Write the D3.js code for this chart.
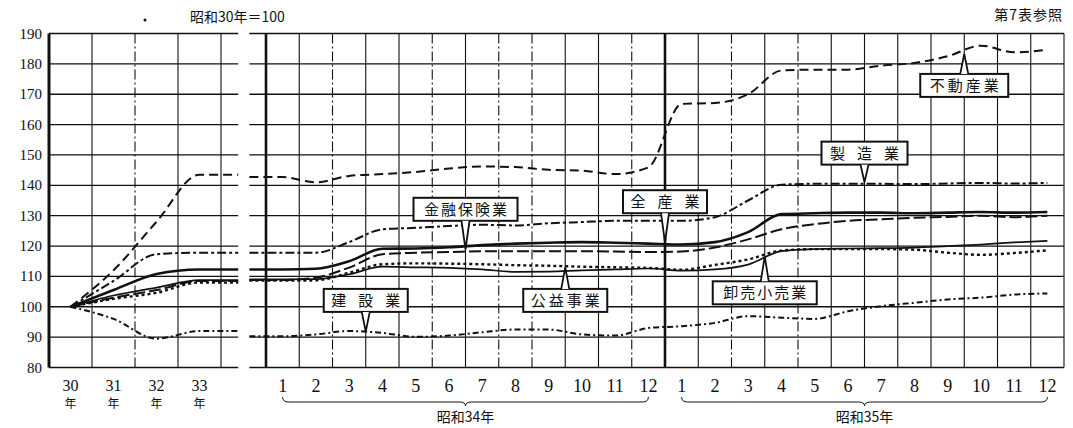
<!DOCTYPE html>
<html>
<head>
<meta charset="utf-8">
<script src="https://cdn.jsdelivr.net/npm/d3@7"></script>
<style>
  body { margin: 0; background: #fff; }
  svg { display: block; }
  .num { font-family: "Liberation Serif", "DejaVu Serif", serif; fill: #111; }
  .jp { font-family: "Noto Sans CJK JP", sans-serif; fill: #111; }
</style>
</head>
<body>
<div id="chart"></div>
<script>
// 昭和30年 = 100
const yearLabels = ['30', '31', '32', '33'];
const monthLabels = ['1','2','3','4','5','6','7','8','9','10','11','12'];
const periodLabels = ['昭和34年', '昭和35年'];
const yTickValues = [80, 90, 100, 110, 120, 130, 140, 150, 160, 170, 180, 190];

const industries = ['全産業', '製造業', '不動産業', '金融保険業', '公益事業', '卸売小売業', '建設業'];

// annual 30-33
const annual = {
  '全産業':     [100, 105.5, 110.8, 112.3],
  '製造業':     [100, 108.5, 117.3, 117.8],
  '不動産業':   [100, 112, 128, 143.5],
  '金融保険業': [100, 103, 105.5, 108.5],
  '公益事業':   [100, 102.6, 104.6, 108],
  '卸売小売業': [100, 103.7, 106.3, 108.8],
  '建設業':     [100, 96, 89.5, 92]
};

// monthly, 34 Jan - 35 Dec
const monthly = {
  '全産業':     [112.3, 112.5, 115, 119.1, 119.2, 119.6, 120.3, 120.8, 121.1, 121.3, 121.1, 120.8,
                 120.5, 121.3, 124.6, 130.5, 130.8, 131, 131, 130.8, 131, 131.2, 131, 131.2],
  '製造業':     [117.8, 117.8, 121.3, 125.5, 126, 126.6, 127, 126.8, 127.5, 127.9, 128.3, 128.3,
                 128.3, 129.5, 135, 140.2, 140.5, 140.5, 140.5, 140.4, 140.6, 140.8, 140.6, 140.8],
  '不動産業':   [142.7, 141, 143.1, 143.7, 144.4, 145.5, 146.2, 146, 145.1, 144.8, 143.7, 145.9,
                 166.8, 167.1, 170, 177.8, 178.1, 178.1, 179.4, 180.3, 182.5, 186, 183.8, 184.7],
  '金融保険業': [108.8, 109.6, 112.9, 117.3, 117.8, 118, 118.3, 118.3, 118.3, 118.3, 118.2, 118,
                 118.2, 119.5, 122.2, 125.5, 127.2, 128.3, 128.8, 129.3, 129.6, 130, 129.5, 130],
  '公益事業':   [108.6, 108.7, 111.2, 114, 114.3, 114.2, 114, 113.7, 113.5, 113.2, 113, 112.8,
                 112.2, 113.8, 115.6, 118.5, 119, 119, 119, 118.8, 117.8, 117.1, 117.7, 118.6],
  '卸売小売業': [109, 109.1, 110.7, 113.2, 113, 112.8, 112.3, 111.5, 111.6, 112, 112.3, 112.6,
                 111.9, 112.3, 113.9, 118.3, 119, 119.2, 119.3, 119.5, 120, 120.5, 121.2, 121.7],
  '建設業':     [90.3, 90.9, 92, 91.4, 90.1, 90.5, 91.6, 92.5, 92.5, 90.9, 90.5, 93,
                 93.6, 94.7, 96.9, 96.4, 96, 98.5, 100.2, 101.3, 102.4, 103, 104, 104.4]
};

const lineStyle = {
  '全産業':     {w: 2.6, dash: null},
  '製造業':     {w: 2, dash: '9,3,3,3'},
  '不動産業':   {w: 2, dash: '9,5'},
  '金融保険業': {w: 2, dash: '12,4'},
  '公益事業':   {w: 2.4, dash: '3,3'},
  '卸売小売業': {w: 1.7, dash: null},
  '建設業':     {w: 2, dash: '6,3,2,3'}
};

// callouts: tip at (month position, value), box centre at (month position, value)
const callouts = [
  {text: '金融保険業', p: 6,  v: 118.9, bv: 132.1, w: 104, ls: 2},
  {text: '全産業',     p: 12, v: 121.2, bv: 134.6, w: 84,  ls: 12},
  {text: '建設業',     p: 3,  v: 91.8,  bv: 102.1, w: 84,  ls: 12},
  {text: '公益事業',   p: 9,  v: 113,   bv: 102.1, w: 84,  ls: 3},
  {text: '卸売小売業', p: 15, v: 116.6, bv: 104.6, w: 104, ls: 2},
  {text: '製造業',     p: 18, v: 141,   bv: 150.6, w: 86,  ls: 12},
  {text: '不動産業',   p: 21, v: 183.3, bv: 172.9, w: 88,  ls: 3}
];

const dashedGridR = [2, 5, 7, 8, 11, 14, 16];

const width = 1073, height = 428;
const svg = d3.select('#chart').append('svg')
  .attr('width', width).attr('height', height);

const y = d3.scaleLinear().domain([80, 190]).range([367.5, 33.5]);
const xL = d3.scaleLinear().domain([0, 4]).range([49, 221]);
const xR = d3.scaleLinear().domain([0, 24]).range([266, 1064]);
const leftEnd = xL(4.4), rightStart = xR(-0.5);

const grid = svg.append('g');

// horizontal grid
grid.selectAll('.hl').data(yTickValues).join('line')
  .attr('x1', xL(0)).attr('x2', leftEnd)
  .attr('y1', d => y(d)).attr('y2', d => y(d))
  .attr('stroke', '#111').attr('stroke-width', 1.3);
grid.selectAll('.hr').data(yTickValues).join('line')
  .attr('class', 'hr')
  .attr('x1', rightStart).attr('x2', xR(24))
  .attr('y1', d => y(d)).attr('y2', d => y(d))
  .attr('stroke', '#111').attr('stroke-width', 1.3);

// vertical grid, left panel
grid.selectAll('.vl').data(d3.range(1, 5)).join('line')
  .attr('class', 'vl')
  .attr('x1', d => xL(d)).attr('x2', d => xL(d))
  .attr('y1', y(190)).attr('y2', y(80))
  .attr('stroke', '#111').attr('stroke-width', 1.1)
  .attr('stroke-dasharray', d => d === 2 ? '10,3,2,3' : null);
grid.append('line')
  .attr('x1', xL(0)).attr('x2', xL(0))
  .attr('y1', y(190)).attr('y2', y(80))
  .attr('stroke', '#111').attr('stroke-width', 3);

// vertical grid, right panel
grid.selectAll('.vr').data(d3.range(0, 25)).join('line')
  .attr('class', 'vr')
  .attr('x1', d => xR(d)).attr('x2', d => xR(d))
  .attr('y1', y(190)).attr('y2', y(80))
  .attr('stroke', '#111')
  .attr('stroke-width', d => (d === 0 || d === 12) ? 2.6 : 1.1)
  .attr('stroke-dasharray', d => dashedGridR.includes(d) ? '10,3,2,3' : null);

// y labels
svg.selectAll('.ytick').data(yTickValues).join('text')
  .attr('class', 'num')
  .attr('x', 42).attr('y', d => y(d) + 5)
  .attr('text-anchor', 'end')
  .attr('font-size', 15)
  .text(d => d);

// lines
const line = d3.line().curve(d3.curveMonotoneX);
const lines = svg.append('g').attr('fill', 'none').attr('stroke', '#111');
industries.forEach(name => {
  const a = annual[name];
  const ptsL = a.map((v, i) => [xL(i + 0.5), y(v)]);
  ptsL.push([leftEnd, y(a[a.length - 1])]);
  const m = monthly[name];
  const ptsR = [[rightStart, y(m[0])]].concat(m.map((v, i) => [xR(i + 0.5), y(v)]));
  const st = lineStyle[name];
  [ptsL, ptsR].forEach(pts => {
    lines.append('path')
      .attr('d', line(pts))
      .attr('stroke-width', st.w)
      .attr('stroke-dasharray', st.dash)
      .attr('stroke-linejoin', 'round');
  });
});

// callouts
const co = svg.append('g');
callouts.forEach(c => {
  const cx = xR(c.p);
  const by = y(c.bv), bh = 23;
  const top = by - bh / 2, bot = by + bh / 2;
  const ty = y(c.v);
  co.append('rect')
    .attr('x', cx - c.w / 2).attr('y', top)
    .attr('width', c.w).attr('height', bh)
    .attr('fill', '#fff').attr('stroke', '#111').attr('stroke-width', 2);
  const edge = ty > by ? bot : top;
  co.append('path')
    .attr('d', `M${cx - 4},${edge} L${cx},${ty} L${cx + 4},${edge}`)
    .attr('fill', '#fff').attr('stroke', '#111').attr('stroke-width', 1.8);
  co.append('text')
    .attr('class', 'jp')
    .attr('x', cx + c.ls / 2).attr('y', by + 5.5)
    .attr('text-anchor', 'middle')
    .attr('font-size', 15)
    .attr('letter-spacing', c.ls)
    .text(c.text);
});

// x labels, left panel
const xl = svg.append('g');
yearLabels.forEach((d, i) => {
  xl.append('text').attr('class', 'num')
    .attr('x', xL(i + 0.5)).attr('y', 391)
    .attr('text-anchor', 'middle').attr('font-size', 16)
    .text(d);
  xl.append('text').attr('class', 'jp')
    .attr('x', xL(i + 0.5)).attr('y', 408)
    .attr('text-anchor', 'middle').attr('font-size', 12)
    .text('年');
});

// x labels, right panel
periodLabels.forEach((lab, k) => {
  monthLabels.forEach((d, i) => {
    svg.append('text').attr('class', 'num')
      .attr('x', xR(k * 12 + i + 0.5)).attr('y', 392)
      .attr('text-anchor', 'middle').attr('font-size', 18)
      .text(d);
  });
  const x0 = xR(k * 12 + 0.5), x1 = xR(k * 12 + 11.5), xm = (x0 + x1) / 2;
  svg.append('path')
    .attr('d', `M${x0},397 Q${x0},402 ${x0 + 6},402 L${xm - 6},402 Q${xm},402 ${xm},406 Q${xm},402 ${xm + 6},402 L${x1 - 6},402 Q${x1},402 ${x1},397`)
    .attr('fill', 'none').attr('stroke', '#111').attr('stroke-width', 1);
  svg.append('text').attr('class', 'jp')
    .attr('x', xm).attr('y', 422)
    .attr('text-anchor', 'middle').attr('font-size', 14)
    .text(lab);
});

// header texts
svg.append('circle').attr('cx', 145).attr('cy', 20).attr('r', 1.5).attr('fill', '#111');
svg.append('text').attr('class', 'jp')
  .attr('x', 190).attr('y', 22).attr('font-size', 14)
  .text('昭和30年＝100');
svg.append('text').attr('class', 'jp')
  .attr('x', 1063).attr('y', 20).attr('text-anchor', 'end').attr('font-size', 14)
  .attr('letter-spacing', 1)
  .text('第7表参照');
</script>
</body>
</html>
